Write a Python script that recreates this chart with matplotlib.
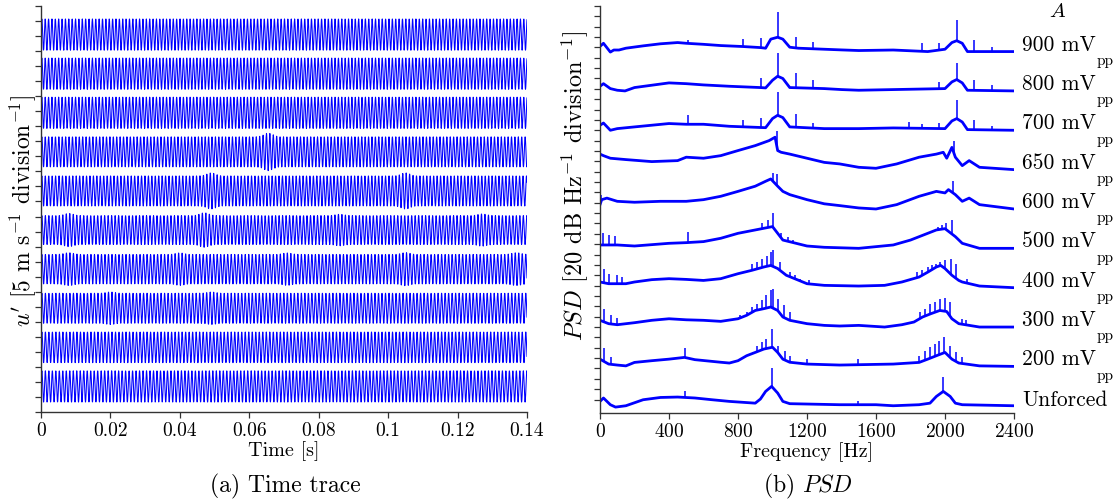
import numpy as np
import matplotlib
matplotlib.use("Agg")
import matplotlib.pyplot as plt

plt.rcParams['font.family'] = 'serif'
plt.rcParams['font.serif'] = ['cmr10', 'DejaVu Serif']
plt.rcParams['mathtext.fontset'] = 'cm'
plt.rcParams['axes.formatter.use_mathtext'] = True

# forcing amplitude labels, top trace first
amp_labels = ['900', '800', '700', '650', '600', '500', '400', '300', '200', 'Unforced']

# ---- time traces (a): dominant frequency, amplitude and local bursts
trace_freq = [1030, 1030, 1030, 1020, 1010, 995, 990, 990, 990, 995]   # Hz
trace_amp = [5.2, 5.2, 5.2, 5.0, 5.0, 4.8, 4.9, 5.0, 5.1, 5.2]         # m/s
trace_bursts = [
    [],
    [],
    [],
    [(0.0655, 1.25)],
    [(0.049, 1.2), (0.105, 1.2)],
    [(0.008, 1.15), (0.047, 1.2), (0.086, 1.1), (0.127, 1.12)],
    [(0.008, 1.12), (0.040, 1.1), (0.071, 1.1), (0.105, 1.12), (0.137, 1.12)],
    [(0.020, 1.08), (0.049, 1.08)],
    [],
    [],
]

# ---- PSD traces (b): baseline shape (Hz, dB above the trace's own floor) and narrow peaks
f_900 = [0, 20, 60, 80, 110, 150, 250, 350, 450, 500, 600, 700, 830, 930, 960, 990, 1030, 1060, 1100, 1150, 1300, 1400, 1500, 1700, 1900, 2000, 2040, 2068, 2100, 2130, 2250, 2400]
db_900 = [10, 16, -1, 3, 3, 6.5, 11, 15, 17.4, 16, 14, 11.6, 9.7, 7.7, 6.5, 24, 27.7, 24, 8.4, 6.5, 4.5, 3.2, 2, 3, 0, 4.5, 17.4, 21, 16, 0, 0, 0]
pk_900 = [(512, 22.6), (830, 24.5), (933, 25.8), (1032, 75.5), (1136, 29), (1235, 19.4), (1867, 16), (1965, 17.4), (2068, 60), (2168, 22.6), (2272, 9.7)]

f_800 = [0, 20, 60, 100, 145, 200, 400, 500, 600, 750, 930, 960, 1000, 1030, 1060, 1100, 1300, 1400, 1500, 1700, 2000, 2040, 2068, 2100, 2130, 2400]
db_800 = [9, 14, 4.5, 1.3, 0, 6.5, 15.5, 14, 11.6, 9, 6.5, 5.8, 20.6, 28.4, 24, 6.5, 4.5, 2.6, 1.3, 2.6, 4.5, 17.4, 22, 15.5, 1.3, 0]
pk_800 = [(933, 25.8), (1032, 73.5), (1136, 35), (1235, 20.6), (1965, 17.4), (2068, 54), (2168, 20.6), (2272, 11)]

f_700 = [0, 20, 60, 100, 200, 400, 500, 600, 750, 960, 1000, 1030, 1060, 1100, 1300, 1500, 1700, 2000, 2040, 2068, 2100, 2130, 2400]
db_700 = [9.7, 14, 0, 3.2, 6.5, 13, 11.6, 11.6, 7.7, 5, 22.6, 29, 24.5, 6.5, 3.2, 3.2, 4.5, 3.2, 18, 22.6, 16, 1.3, 0]
pk_700 = [(512, 29), (830, 20.6), (933, 24.5), (1032, 74), (1136, 32), (1235, 14), (1790, 16), (1867, 11.6), (1965, 14), (2068, 58), (2168, 20.6), (2272, 7.7)]

f_650 = [0, 20, 60, 150, 300, 450, 500, 600, 700, 800, 900, 980, 1015, 1030, 1050, 1100, 1200, 1300, 1390, 1500, 1600, 1720, 1850, 1950, 1990, 2010, 2040, 2060, 2100, 2140, 2200, 2400]
db_650 = [30, 27, 22, 19.4, 15.5, 17.4, 24, 22, 27, 36.8, 46.4, 56, 62.6, 36.8, 33.5, 30, 22, 14, 11, 4.5, 2.6, 11, 24, 30, 33.5, 22, 43, 24, 7.7, 17.4, 4.5, 0]
pk_650 = [(1027, 75.5), (2050, 56)]

f_600 = [0, 10, 40, 100, 200, 350, 500, 600, 700, 800, 900, 960, 990, 1030, 1060, 1100, 1200, 1300, 1390, 1500, 1600, 1720, 1850, 1950, 2000, 2020, 2060, 2100, 2140, 2200, 2400]
db_600 = [8.4, 18, 21, 14.8, 13, 14.8, 14.8, 18, 24.5, 34, 44, 53.5, 58, 44, 34, 27.7, 18, 10, 6.5, 2, 0, 8.4, 24.5, 34, 31, 37.4, 27.7, 14.8, 21, 8.4, 0]
pk_600 = [(5, 27.7), (1005, 69.7), (1024, 68), (2045, 53.5)]

f_500 = [0, 100, 200, 400, 500, 600, 700, 800, 900, 1000, 1030, 1060, 1200, 1300, 1500, 1700, 1800, 1900, 1950, 2000, 2060, 2100, 2200, 2400]
db_500 = [6.5, 6.5, 4.5, 9.7, 11, 13, 19.4, 29, 35.5, 42, 29, 16, 4.5, 2, 0, 6.5, 16, 29, 35.5, 38, 22.6, 9.7, 0, 0]
pk_500 = [(20, 29), (55, 26), (85, 23), (508, 32), (940, 48), (975, 55), (1005, 67.7), (1050, 29), (1090, 22.6), (1120, 16), (1960, 42), (1985, 45), (2005, 48), (2040, 55)]

f_400 = [0, 50, 150, 200, 300, 400, 500, 600, 700, 800, 880, 950, 990, 1030, 1080, 1200, 1300, 1500, 1650, 1750, 1850, 1900, 1950, 1975, 2000, 2040, 2080, 2100, 2200, 2400]
db_400 = [11, 7.7, 7.7, 11, 15.5, 17.4, 16, 14, 17.4, 27, 33.5, 40, 43, 37, 24, 7.7, 4.5, 3.2, 4.5, 11, 20.6, 30, 40, 43, 37, 24, 14, 11, 3.2, 0]
pk_400 = [(26, 37), (55, 27), (97, 24), (130, 20.6), (880, 46), (908, 50), (937, 56), (966, 61), (989, 69), (1005, 72), (1043, 50), (1101, 30), (1130, 24), (1160, 17.4), (1210, 14), (1839, 30), (1868, 33.5), (1899, 40), (1922, 43), (1947, 46.4), (1971, 49.7), (2000, 53), (2033, 56), (2064, 46.4), (2130, 17.4)]

f_300 = [0, 50, 100, 200, 300, 400, 500, 600, 700, 800, 850, 900, 950, 990, 1030, 1060, 1100, 1200, 1300, 1390, 1500, 1650, 1750, 1820, 1870, 1920, 1970, 2010, 2040, 2080, 2200, 2400]
db_300 = [13, 6.5, 4.5, 8.4, 13, 16, 14, 13, 11, 16, 22.6, 32, 35.5, 38.7, 32, 19.4, 13, 6.5, 3.2, 2, 3.2, 0, 4.5, 9.7, 19.4, 26, 32, 30, 16, 6.5, 0, 0]
pk_300 = [(26, 35.5), (66, 22.6), (100, 17.4), (812, 22.6), (850, 29), (880, 38.7), (908, 45), (937, 51.6), (962, 61), (990, 71), (1005, 74), (1034, 55), (1066, 42), (1101, 29), (1836, 16), (1855, 29), (1884, 35.5), (1913, 45), (1942, 48), (1971, 55), (2000, 56), (2029, 48), (2097, 16), (2120, 13)]

f_200 = [0, 50, 100, 150, 200, 300, 400, 490, 550, 700, 750, 800, 850, 900, 950, 1000, 1030, 1060, 1100, 1200, 1390, 1700, 1850, 1900, 1950, 2000, 2040, 2080, 2200, 2400]
db_200 = [14, 4.5, 2.6, 1, 7.7, 11, 14, 17.4, 13, 8, 6.5, 11, 20.6, 27, 33.5, 37, 27, 14, 8, 4.5, 2.6, 4.5, 7.7, 14, 20.6, 27, 14, 6.5, 1, 0]
pk_200 = [(26, 35), (66, 17.4), (490, 35), (885, 27), (910, 40), (937, 46.4), (962, 53), (995, 72), (1034, 40), (1072, 30), (1101, 20.6), (1198, 14), (1497, 14), (1851, 20.6), (1884, 30), (1913, 37), (1942, 43), (1967, 50), (1996, 56), (2029, 40), (2064, 27), (2097, 17.4)]

f_unf = [0, 20, 60, 90, 150, 250, 350, 450, 550, 650, 750, 900, 930, 960, 995, 1030, 1060, 1100, 1390, 1600, 1700, 1850, 1913, 1950, 1990, 2030, 2060, 2100, 2400]
db_unf = [8.4, 15, 2, -2.6, 0, 11.6, 16, 16.8, 15, 11.6, 8.4, 5, 13, 27.7, 37.4, 24.5, 8.4, 4, 2, 2, 0, 2, 5, 18, 27.7, 18, 5, 2, 0]
pk_unf = [(490, 27.7), (995, 73), (1497, 8.4), (1990, 55)]

psd_f = [f_900, f_800, f_700, f_650, f_600, f_500, f_400, f_300, f_200, f_unf]
psd_db = [db_900, db_800, db_700, db_650, db_600, db_500, db_400, db_300, db_200, db_unf]
psd_pk = [pk_900, pk_800, pk_700, pk_650, pk_600, pk_500, pk_400, pk_300, pk_200, pk_unf]

blue = '#0000ff'
axcol = '#333333'

fig = plt.figure(figsize=(11.16, 5.04), dpi=100)
ax1 = fig.add_axes([41 / 1116, 92 / 504, 486 / 1116, 406 / 504])
ax2 = fig.add_axes([600 / 1116, 91 / 504, 414 / 1116, 407 / 504])

for ax in (ax1, ax2):
    for s in ('top', 'right'):
        ax.spines[s].set_visible(False)
    for s in ('left', 'bottom'):
        ax.spines[s].set_color(axcol)
        ax.spines[s].set_linewidth(1.0)
    ax.tick_params(direction='out', length=4, width=0.9, color=axcol, labelsize=14, pad=3)
    ax.tick_params(axis='y', labelleft=False)

# (a) time traces
fs = 20000
t = np.arange(0, 0.14 + 0.5 / fs, 1 / fs)
n = len(amp_labels)
for i in range(n):
    center = 8.5 + 13 * (n - 1 - i)
    env = np.ones_like(t)
    for tb, g in trace_bursts[i]:
        env += (g - 1) * np.exp(-((t - tb) / 0.0018) ** 2)
    u = center + trace_amp[i] * env * np.sin(2 * np.pi * trace_freq[i] * t)
    ax1.plot(t, u, color=blue, lw=0.75)

ax1.set_xlim(0, 0.14)
ax1.set_ylim(0, 135)
ax1.set_yticks(np.arange(0, 136, 5))
ax1.set_xticks([0, 0.02, 0.04, 0.06, 0.08, 0.1, 0.12, 0.14])
ax1.set_xticklabels(['0', '0.02', '0.04', '0.06', '0.08', '0.1', '0.12', '0.14'])
ax1.set_xlabel('Time [s]', fontsize=14.5, labelpad=1)
ax1.set_ylabel(r"$u'$ [5 m s$^{-1}$ division$^{-1}$]", fontsize=17)
ax1.yaxis.set_label_coords(-0.006, 0.495)

# (b) PSD traces
for i in range(n):
    shift = -12 + 76 * (n - 1 - i)
    fb = np.array(psd_f[i], dtype=float)
    db = np.array(psd_db[i], dtype=float)
    ax2.plot(fb, db + shift, color=blue, lw=2.0, solid_joinstyle='round')
    pf = np.array([p[0] for p in psd_pk[i]], dtype=float)
    ph = np.array([p[1] for p in psd_pk[i]], dtype=float)
    ax2.vlines(pf, np.interp(pf, fb, db) + shift, ph + shift, color=blue, lw=1.1)
    if amp_labels[i] == 'Unforced':
        ax2.text(2446, shift, 'Unforced', fontsize=15.5, ha='left', va='baseline', clip_on=False)
    else:
        lab = ax2.text(2446, shift + 2, amp_labels[i] + ' mV', fontsize=15.5,
                       ha='left', va='baseline', clip_on=False)
        ax2.annotate('pp', xy=(1, 0), xycoords=lab, xytext=(0.5, -7.5),
                     textcoords='offset points', fontsize=11, ha='left', va='baseline')

ax2.text(2655, 748, '$A$', fontsize=15, ha='center', va='center', clip_on=False)
ax2.set_xlim(0, 2400)
ax2.set_ylim(-26, 760)
ax2.set_yticks(np.arange(0, 761, 20))
ax2.set_xticks([0, 400, 800, 1200, 1600, 2000, 2400])
ax2.set_xlabel('Frequency [Hz]', fontsize=14.5, labelpad=1)
ax2.set_ylabel(r'$PSD$ [20 dB Hz$^{-1}$ division$^{-1}$]', fontsize=17.5)
ax2.yaxis.set_label_coords(-0.022, 0.557)

fig.text(285 / 1116, 1 - 486 / 504, '(a) Time trace', fontsize=17, ha='center', va='center')
fig.text(808 / 1116, 1 - 486 / 504, '(b) $PSD$', fontsize=17, ha='center', va='center')

fig.savefig('out.png', dpi=100)
